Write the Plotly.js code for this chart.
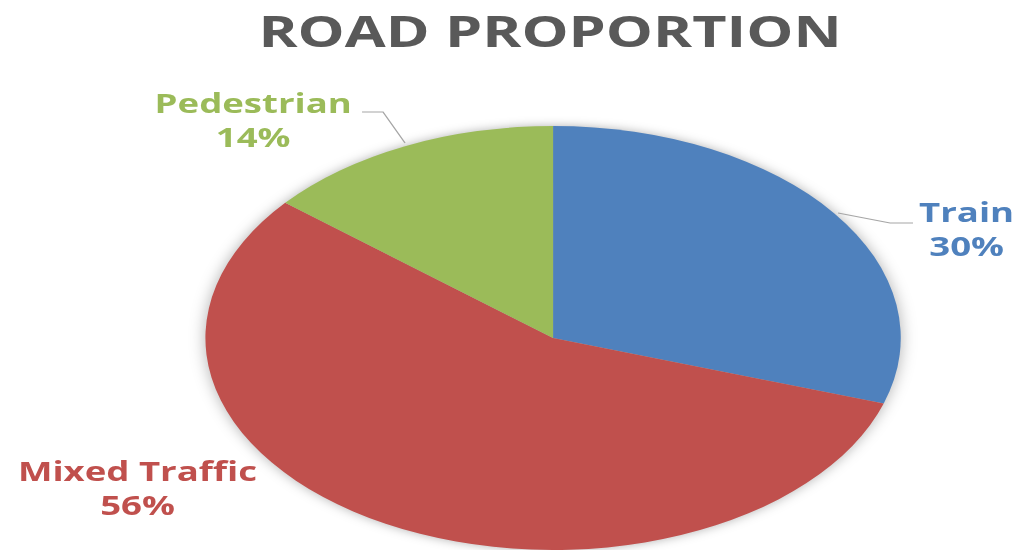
<!DOCTYPE html>
<html>
<head>
<meta charset="utf-8">
<script src="https://cdn.plot.ly/plotly-3.0.1.min.js"></script>
<style>
  html, body { margin: 0; padding: 0; background: #ffffff; overflow: hidden; }
  #wrap { position: relative; width: 1017px; height: 550px; overflow: hidden; }
  #pie { position: absolute; left: 0; top: 0; width: 620px; height: 550px;
         transform: scaleX(1.64); transform-origin: 0 0;
         filter: drop-shadow(0px 0px 5px rgba(0,0,0,0.30)); }
  #txt { position: absolute; left: 0; top: 0; width: 737px; height: 550px;
         transform: scaleX(1.38); transform-origin: 0 0; }
</style>
</head>
<body>
<div id="wrap">
  <div id="pie"></div>
  <div id="txt"></div>
</div>
<script>
// ---- data ----
var categories = ['Train', 'Mixed Traffic', 'Pedestrian'];
var values = [30, 56, 14];
var colors = ['#4F81BD', '#C0504D', '#9BBB59'];
var chartTitle = 'ROAD PROPORTION';

// ---- pie layer (stretched horizontally) ----
Plotly.newPlot('pie', [{
  type: 'pie',
  labels: categories,
  values: values,
  sort: false,
  direction: 'clockwise',
  rotation: 0,
  textinfo: 'none',
  hoverinfo: 'none',
  marker: { colors: colors, line: { width: 0 } },
  domain: { x: [0.2020, 0.8859], y: [0, 0.7709] }
}], {
  width: 620, height: 550,
  margin: { l: 0, r: 0, t: 0, b: 0 },
  showlegend: false,
  paper_bgcolor: 'rgba(0,0,0,0)'
}, { staticPlot: true, displayModeBar: false });

// ---- text layer ----
var W = 1017, H = 550;
function px(x) { return x / W; }
function py(y) { return 1 - y / H; }
var labelPos = [ [966, 229], [137, 488], [253, 120] ];
var annotations = categories.map(function (c, i) {
  return {
    xref: 'paper', yref: 'paper',
    x: px(labelPos[i][0]), y: py(labelPos[i][1]),
    xanchor: 'center', yanchor: 'middle',
    showarrow: false,
    align: 'center',
    text: c + '<br>' + values[i] + '%',
    font: { family: '"Open Sans", sans-serif', size: 26.5, weight: 700, color: colors[i] }
  };
});
function path(pts) {
  return 'M ' + pts.map(function (p) { return px(p[0]) + ' ' + py(p[1]); }).join(' L ');
}
var shapes = [
  { type: 'path', xref: 'paper', yref: 'paper', path: path([[838, 213], [890, 223], [913, 223]]),
    line: { color: '#A6A6A6', width: 1 } },
  { type: 'path', xref: 'paper', yref: 'paper', path: path([[362, 112], [383, 112], [405, 143]]),
    line: { color: '#A6A6A6', width: 1 } }
];
Plotly.newPlot('txt', [], {
  width: 737, height: 550,
  margin: { l: 0, r: 0, t: 0, b: 0 },
  paper_bgcolor: 'rgba(0,0,0,0)',
  plot_bgcolor: 'rgba(0,0,0,0)',
  xaxis: { visible: false },
  yaxis: { visible: false },
  showlegend: false,
  title: {
    text: chartTitle,
    x: px(550), xanchor: 'center', xref: 'paper',
    y: py(32), yanchor: 'middle', yref: 'container',
    font: { family: '"Open Sans", sans-serif', size: 43, weight: 700, color: '#595959' }
  },
  annotations: annotations,
  shapes: shapes
}, { staticPlot: true, displayModeBar: false });
</script>
</body>
</html>
